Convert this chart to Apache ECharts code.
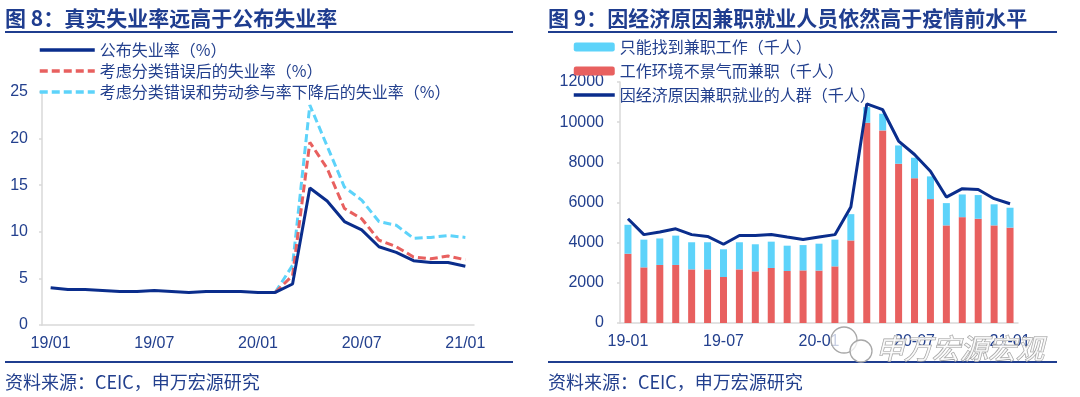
<!DOCTYPE html>
<html>
<head>
<meta charset="utf-8">
<script src="https://cdn.jsdelivr.net/npm/echarts@6/dist/echarts.min.js"></script>
<style>
  html, body { margin: 0; padding: 0; background: #fff; }
  .wrap { width: 1080px; height: 397px; position: relative; }
  .echarts_left, .echarts_right { position: absolute; top: 0; width: 540px; height: 397px; }
  .echarts_left { left: 0; }
  .echarts_right { left: 540px; }
</style>
</head>
<body>
<div class="wrap">
  <div class="echarts_left"></div>
  <div class="echarts_right"></div>
</div>
<script>
// 图8 数据
var months1 = ['19/01','19/02','19/03','19/04','19/05','19/06','19/07','19/08','19/09','19/10','19/11','19/12',
  '20/01','20/02','20/03','20/04','20/05','20/06','20/07','20/08','20/09','20/10','20/11','20/12','21/01'];
var unempRate = [4.0,3.8,3.8,3.7,3.6,3.6,3.7,3.6,3.5,3.6,3.6,3.6,3.5,3.5,4.4,14.7,13.3,11.1,10.2,8.4,7.8,6.9,6.7,6.7,6.3];
var misclassRate = [null,null,null,null,null,null,null,null,null,null,null,null,null,
  3.5,5.3,19.6,16.8,12.5,11.4,9.1,8.4,7.3,7.1,7.4,7.0];
var lfprRate = [null,null,null,null,null,null,null,null,null,null,null,null,null,
  3.5,6.4,23.6,19.2,14.8,13.4,11.1,10.7,9.3,9.4,9.6,9.4];

// 图9 数据
var months2 = ['19-01','19-02','19-03','19-04','19-05','19-06','19-07','19-08','19-09','19-10','19-11','19-12',
  '20-01','20-02','20-03','20-04','20-05','20-06','20-07','20-08','20-09','20-10','20-11','20-12','21-01'];
var onlyPartTime = [1440,1380,1320,1460,1350,1350,1380,1350,1350,1310,1260,1260,1340,1330,1310,780,830,910,1020,1130,1110,1130,1180,1050,990];
var slackWork = [3450,2770,2890,2890,2670,2670,2290,2670,2570,2740,2590,2620,2610,2820,4110,9970,9590,7930,7210,6170,4860,5270,5190,4860,4750];
var econPartTime = [5190,4400,4530,4690,4400,4310,3920,4360,4360,4410,4280,4160,4280,4400,5770,10910,10620,9060,8390,7560,6270,6690,6650,6190,5940];

var FONT = "'Liberation Sans','Noto Sans CJK SC',sans-serif";
var CJK = "'Noto Sans CJK SC','Liberation Sans',sans-serif";
var TXT = '#23408e';
var NAVY = '#0a2d8c';
var RED = '#e8605f';
var CYAN = '#5dd3fa';
var AXIS = '#d9d9d9';

function frame(title, x0, x1) {
  return [
    { type: 'text', x: x0, y: 18, style: { text: title, fontFamily: CJK, fontSize: 21, fontWeight: 'bold', fill: '#1f3d8f', verticalAlign: 'middle' } },
    { type: 'line', shape: { x1: x0, y1: 32, x2: x1, y2: 32 }, style: { stroke: '#1f3d8f', lineWidth: 2 } },
    { type: 'line', shape: { x1: x0, y1: 362, x2: x1, y2: 362 }, style: { stroke: '#1f3d8f', lineWidth: 2 } },
    { type: 'text', x: x0, y: 382, style: { text: '资料来源：CEIC，申万宏源研究', fontFamily: CJK, fontSize: 18, fill: TXT, verticalAlign: 'middle' } }
  ];
}

// 折线图例：不显示圆点，线加粗
var noDot = { opacity: 0 };
var thick = { width: 3.5 };

// 左图
var echarts_left = echarts.init(document.querySelector('.echarts_left'));
var option1 = {
  animation: false,
  textStyle: { fontFamily: FONT },
  graphic: frame('图 8：真实失业率远高于公布失业率', 5, 513),
  legend: {
    orient: 'vertical', left: 33, top: 37,
    itemWidth: 55, itemHeight: 10, itemGap: 5,
    data: [
      { name: '公布失业率（%）', itemStyle: noDot, lineStyle: thick },
      { name: '考虑分类错误后的失业率（%）', itemStyle: noDot, lineStyle: thick },
      { name: '考虑分类错误和劳动参与率下降后的失业率（%）', itemStyle: noDot, lineStyle: thick }
    ],
    textStyle: { fontFamily: CJK, fontSize: 16, color: TXT, lineHeight: 16 }
  },
  grid: { left: 42, right: 66, top: 92, bottom: 72 },
  xAxis: [{
    type: 'category', data: months1, boundaryGap: true,
    axisLine: { lineStyle: { color: AXIS, width: 1.5 } },
    axisTick: { interval: 0, length: 3, lineStyle: { color: AXIS, width: 1.5 } },
    axisLabel: { interval: 5, color: TXT, fontSize: 16, margin: 11 }
  }, {
    type: 'category', data: months1, boundaryGap: true, position: 'bottom',
    axisLine: { show: false },
    axisTick: { interval: 5, length: 7, lineStyle: { color: AXIS, width: 1.5 } },
    axisLabel: { show: false }
  }],
  yAxis: {
    type: 'value', min: 0, max: 25, interval: 5,
    axisLine: { show: true, lineStyle: { color: AXIS, width: 1.5 } },
    axisTick: { show: true, length: 3, lineStyle: { color: AXIS, width: 1.5 } },
    splitLine: { show: false },
    axisLabel: { color: TXT, fontSize: 16, margin: 14 }
  },
  series: [
    { name: '考虑分类错误和劳动参与率下降后的失业率（%）', type: 'line', data: lfprRate, symbol: 'none',
      lineStyle: { color: CYAN, width: 3, type: [8, 4] }, itemStyle: { color: CYAN } },
    { name: '考虑分类错误后的失业率（%）', type: 'line', data: misclassRate, symbol: 'none',
      lineStyle: { color: RED, width: 3, type: [8, 4] }, itemStyle: { color: RED } },
    { name: '公布失业率（%）', type: 'line', data: unempRate, symbol: 'none',
      lineStyle: { color: NAVY, width: 3 }, itemStyle: { color: NAVY } }
  ]
};
echarts_left.setOption(option1);

// 右图
var echarts_right = echarts.init(document.querySelector('.echarts_right'));
var option2 = {
  animation: false,
  textStyle: { fontFamily: FONT },
  graphic: frame('图 9：因经济原因兼职就业人员依然高于疫情前水平', 8, 517).concat([
    // 水印
    { type: 'circle', z: 100, shape: { cx: 304, cy: 340, r: 13 }, style: { fill: 'rgba(255,255,255,0.75)', stroke: '#a8a8a8', lineWidth: 1.3 } },
    { type: 'circle', z: 100, shape: { cx: 321, cy: 351, r: 11 }, style: { fill: 'rgba(255,255,255,0.75)', stroke: '#a8a8a8', lineWidth: 1.3 } },
    { type: 'text', z: 100, x: 336, y: 348, style: { text: '申万宏源宏观', fontFamily: CJK, fontSize: 28, fontStyle: 'italic',
      fill: 'rgba(255,255,255,0.8)', stroke: '#9c9c9c', lineWidth: 1.2, verticalAlign: 'middle' } }
  ]),
  legend: {
    orient: 'vertical', left: 27, top: 34,
    itemWidth: 41, itemHeight: 9, itemGap: 8,
    data: [
      '只能找到兼职工作（千人）',
      '工作环境不景气而兼职（千人）',
      { name: '因经济原因兼职就业的人群（千人）', itemStyle: noDot, lineStyle: thick }
    ],
    textStyle: { fontFamily: CJK, fontSize: 16, color: TXT, lineHeight: 16 }
  },
  grid: { left: 80, right: 62, top: 82, bottom: 74 },
  xAxis: [{
    type: 'category', data: months2, boundaryGap: true,
    axisLine: { lineStyle: { color: AXIS, width: 1.5 } },
    axisTick: { interval: 0, length: 3, lineStyle: { color: AXIS, width: 1.5 } },
    axisLabel: { interval: 5, color: TXT, fontSize: 16, margin: 11 }
  }, {
    type: 'category', data: months2, boundaryGap: true, position: 'bottom',
    axisLine: { show: false },
    axisTick: { interval: 5, length: 7, lineStyle: { color: AXIS, width: 1.5 } },
    axisLabel: { show: false }
  }],
  yAxis: {
    type: 'value', min: 0, max: 12000, interval: 2000,
    axisLine: { show: true, lineStyle: { color: AXIS, width: 1.5 } },
    axisTick: { show: true, length: 3, lineStyle: { color: AXIS, width: 1.5 } },
    splitLine: { show: false },
    axisLabel: { color: TXT, fontSize: 16, margin: 16, formatter: function (v) { return String(v); } }
  },
  series: [
    { name: '工作环境不景气而兼职（千人）', type: 'bar', stack: 'pt', data: slackWork, barWidth: 7,
      itemStyle: { color: RED } },
    { name: '只能找到兼职工作（千人）', type: 'bar', stack: 'pt', data: onlyPartTime, barWidth: 7,
      itemStyle: { color: CYAN } },
    { name: '因经济原因兼职就业的人群（千人）', type: 'line', data: econPartTime, symbol: 'none',
      lineStyle: { color: NAVY, width: 3 }, itemStyle: { color: NAVY } }
  ]
};
echarts_right.setOption(option2);
</script>
</body>
</html>
